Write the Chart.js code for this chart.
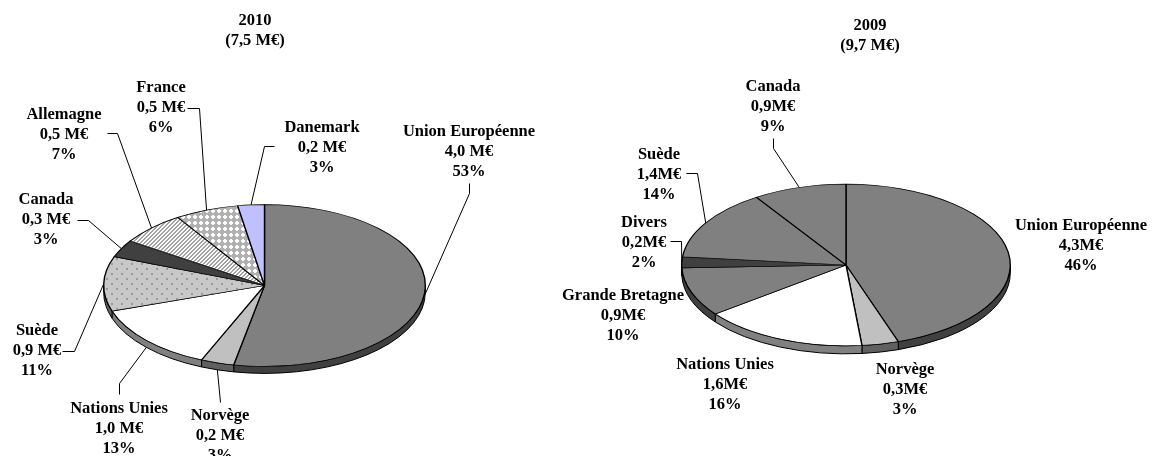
<!DOCTYPE html>
<html>
<head>
<meta charset="utf-8">
<script src="https://cdn.jsdelivr.net/npm/chart.js@4.4.0/dist/chart.umd.min.js"></script>
<style>
  html, body { margin: 0; padding: 0; background: #fff; }
  #wrap { position: relative; width: 1153px; height: 456px; }
  canvas { position: absolute; left: 0; top: 0; }
</style>
</head>
<body>
<div id="wrap">
  <canvas id="pie2010" width="1153" height="456"></canvas>
  <canvas id="pie2009" width="1153" height="456"></canvas>
</div>
<script>
// 2010 (7,5 M€) - slices clockwise from 12 o'clock
var countries2010 = ['Union Européenne', 'Norvège', 'Nations Unies', 'Suède', 'Canada', 'Allemagne', 'France', 'Danemark'];
var values2010 = [3.98, 0.25, 1.01, 0.82, 0.26, 0.50, 0.48, 0.20];
var amounts2010 = ['4,0 M€', '0,2 M€', '1,0 M€', '0,9 M€', '0,3 M€', '0,5 M€', '0,5 M€', '0,2 M€'];
var shares2010 = ['53%', '3%', '13%', '11%', '3%', '7%', '6%', '3%'];

// 2009 (9,7 M€)
var countries2009 = ['Union Européenne', 'Norvège', 'Nations Unies', 'Grande Bretagne', 'Divers', 'Suède', 'Canada'];
var values2009 = [4.35, 0.35, 1.57, 0.95, 0.21, 1.38, 0.89];
var amounts2009 = ['4,3M€', '0,3M€', '1,6M€', '0,9M€', '0,2M€', '1,4M€', '0,9M€'];
var shares2009 = ['46%', '3%', '16%', '10%', '2%', '14%', '9%'];

var FONT = 'bold 16.5px "Liberation Serif", "Times New Roman", serif';

// small tiles for the hatched slices
function makePattern(kind, squash) {
  var c = document.createElement('canvas');
  var g = c.getContext('2d');
  var x, y;
  if (kind === 'dots') {
    c.width = 10; c.height = 10;
    g.fillStyle = '#c8c8c8'; g.fillRect(0, 0, 10, 10);
    g.fillStyle = '#999999';
    g.fillRect(1, 1, 2, 2); g.fillRect(6, 6, 2, 2);
  } else if (kind === 'stripes') {
    c.width = 4; c.height = 4;
    g.fillStyle = '#ffffff'; g.fillRect(0, 0, 4, 4);
    g.fillStyle = '#a0a0a0';
    for (y = 0; y < 4; y++) for (x = 0; x < 4; x++) if ((x + y) % 4 < 2) g.fillRect(x, y, 1, 1);
  } else {
    c.width = 6; c.height = 6;
    g.fillStyle = '#b0b0b0'; g.fillRect(0, 0, 6, 6);
    g.fillStyle = '#ffffff';
    g.fillRect(2, 1, 2, 4); g.fillRect(1, 2, 4, 2);
  }
  var p = g.createPattern(c, 'repeat');
  // the pie is drawn in a squashed context, undo that for the tile
  p.setTransform(new DOMMatrix().scale(1, 1 / squash));
  return p;
}

function drawLines(ctx, lines, x, y) {
  lines.forEach(function (t, k) { ctx.fillText(t, x, y + k * 20); });
}

// draws the pie as a tilted disc: side wall first, then the squashed top
function pie3d(opts) {
  return {
    id: 'pie3d',
    beforeDatasetsDraw: function (chart) {
      var ctx = chart.ctx;
      var arcs = chart.getDatasetMeta(0).data;
      var cx = arcs[0].x, cy = arcs[0].y, rx = arcs[0].outerRadius, ry = rx * opts.squash, d = opts.depth;
      ctx.save();
      ctx.lineWidth = 1;
      ctx.strokeStyle = '#000';
      arcs.forEach(function (arc, i) {
        var s = Math.max(arc.startAngle, 0), e = Math.min(arc.endAngle, Math.PI);
        if (e <= s) return;
        ctx.beginPath();
        ctx.ellipse(cx, cy, rx, ry, 0, s, e);
        ctx.ellipse(cx, cy + d, rx, ry, 0, e, s, true);
        ctx.closePath();
        ctx.fillStyle = opts.sideColors[i];
        ctx.fill();
        ctx.stroke();
      });
      ctx.restore();
      ctx.save();
      ctx.translate(cx, cy);
      ctx.scale(1, opts.squash);
      ctx.translate(-cx, -cy);
    },
    afterDatasetsDraw: function (chart) {
      chart.ctx.restore();
    },
    afterDraw: function (chart) {
      var ctx = chart.ctx;
      var arcs = chart.getDatasetMeta(0).data;
      var cx = arcs[0].x, cy = arcs[0].y, rx = arcs[0].outerRadius, ry = rx * opts.squash, d = opts.depth;
      ctx.save();
      ctx.font = FONT;
      ctx.fillStyle = '#000';
      ctx.textAlign = 'center';
      ctx.textBaseline = 'middle';
      drawLines(ctx, opts.title, opts.titlePos[0], opts.titlePos[1]);
      ctx.strokeStyle = '#000';
      ctx.lineWidth = 1;
      arcs.forEach(function (arc, i) {
        var p = opts.labelPos[i];
        drawLines(ctx, [opts.names[i], opts.amounts[i], opts.shares[i]], p[0], p[1]);
        var pts = opts.leaders[i];
        if (!pts) return;
        var mid = (arc.startAngle + arc.endAngle) / 2;
        var sn = Math.sin(mid);
        var ax = cx + rx * Math.cos(mid);
        var ay = cy + ry * sn + d * Math.max(0, Math.min(1, sn / 0.3));
        ctx.beginPath();
        ctx.moveTo(pts[0][0] + 0.5, pts[0][1] + 0.5);
        for (var k = 1; k < pts.length; k++) ctx.lineTo(pts[k][0] + 0.5, pts[k][1] + 0.5);
        ctx.lineTo(ax, ay);
        ctx.stroke();
      });
      ctx.restore();
    }
  };
}

function makeChart(id, names, values, fills, opts) {
  return new Chart(document.getElementById(id), {
    type: 'pie',
    data: {
      labels: names,
      datasets: [{
        data: values,
        backgroundColor: fills,
        borderColor: '#000000',
        borderWidth: 1.4
      }]
    },
    options: {
      responsive: false,
      animation: false,
      events: [],
      layout: { padding: opts.padding },
      plugins: { legend: { display: false }, tooltip: { enabled: false } }
    },
    plugins: [pie3d(opts)]
  });
}

var squash2010 = 0.503;
makeChart('pie2010', countries2010, values2010,
  ['#808080', '#c0c0c0', '#ffffff', makePattern('dots', squash2010), '#404040',
   makePattern('stripes', squash2010), makePattern('lattice', squash2010), '#c0c0ff'], {
  squash: squash2010,
  depth: 7,
  padding: { left: 103, right: 727, top: 124, bottom: 9 },
  sideColors: ['#404040', '#606060', '#808080', '#646464', '#202020', '#555555', '#555555', '#606080'],
  names: countries2010, amounts: amounts2010, shares: shares2010,
  title: ['2010', '(7,5 M€)'], titlePos: [255, 21],
  labelPos: [[469, 132], [220, 416], [119, 409], [37, 331], [46, 200], [64, 115], [161, 88], [322, 128]],
  leaders: [[[469, 183], [469, 193]], [[220, 402]], [[119, 394], [119, 383]], [[62, 351], [74, 351]],
            [[77, 220], [88, 220]], [[107, 133], [117, 133]], [[187, 108], [199, 108]], [[274, 146], [264, 146]]]
});

var squash2009 = 0.492;
makeChart('pie2009', countries2009, values2009,
  ['#808080', '#c0c0c0', '#ffffff', '#808080', '#404040', '#808080', '#808080'], {
  squash: squash2009,
  depth: 8,
  padding: { left: 681, right: 142, top: 100, bottom: 26 },
  sideColors: ['#404040', '#606060', '#808080', '#404040', '#202020', '#404040', '#404040'],
  names: countries2009, amounts: amounts2009, shares: shares2009,
  title: ['2009', '(9,7 M€)'], titlePos: [870, 26],
  labelPos: [[1081, 226], [905, 370], [725, 365], [623, 296], [644, 223], [659, 155], [773, 87]],
  leaders: [null, null, null, null, [[670, 241], [681, 241]], [[686, 173], [697, 173]], [[773, 138], [773, 148]]]
});
</script>
</body>
</html>
